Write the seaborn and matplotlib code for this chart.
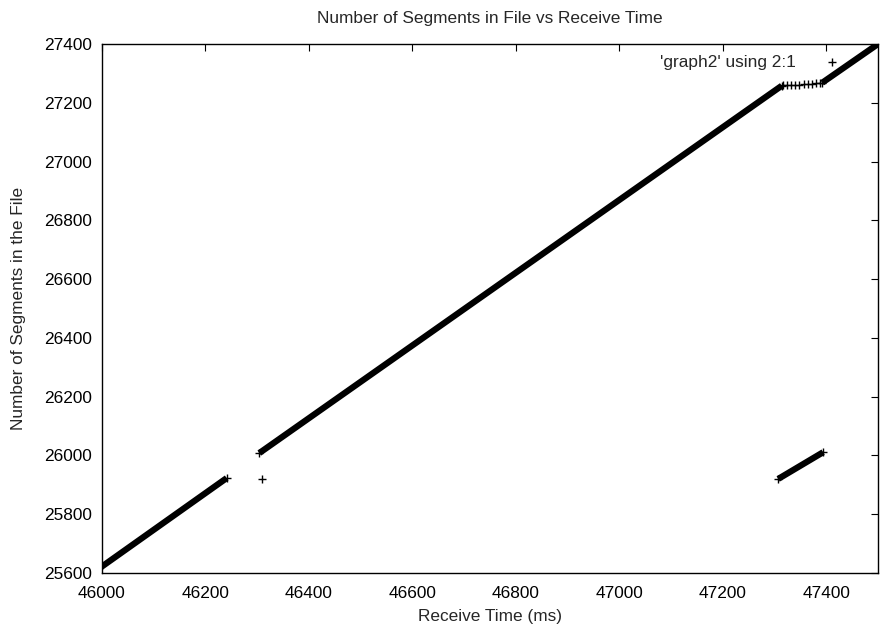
import matplotlib
matplotlib.use("Agg")
import matplotlib.pyplot as plt
import seaborn as sns
import pandas as pd

# ---- data ----
# dense runs of received segments: start/end (receive time ms, segment number)
run_id = ["run1", "run2", "run3", "run4"]
run_t_start = [45995, 46304, 47392, 47307]
run_t_end = [46241, 47314, 47505, 47394]
run_seg_start = [25616, 26008, 27268, 25920]
run_seg_end = [25923, 27258, 27406, 26011]

# individually visible points
single_t = [46309, 47316, 47324, 47332, 47340, 47348, 47356, 47364, 47372, 47380, 47388]
single_seg = [25919, 27259, 27260, 27260, 27261, 27262, 27263, 27264, 27265, 27266, 27267]

title = "Number of Segments in File vs Receive Time"
xlabel = "Receive Time (ms)"
ylabel = "Number of Segments in the File"
legend_label = "'graph2' using 2:1"
xticks = [46000, 46200, 46400, 46600, 46800, 47000, 47200, 47400]
yticks = [25600, 25800, 26000, 26200, 26400, 26600, 26800, 27000, 27200, 27400]

# ---- build tables ----
rows = []
for r, t0, t1, s0, s1 in zip(run_id, run_t_start, run_t_end, run_seg_start, run_seg_end):
    rows.append({"time": t0, "segment": s0, "run": r})
    rows.append({"time": t1, "segment": s1, "run": r})
runs = pd.DataFrame(rows)
singles = pd.DataFrame({"time": single_t, "segment": single_seg})

sns.set_style("white")
plt.rcParams["font.family"] = ["Liberation Sans", "DejaVu Sans"]
FS = 12.4

W, H = 880, 631
fig = plt.figure(figsize=(W / 100, H / 100), dpi=100)
L, R, T, B = 102, 878, 44, 573
ax = fig.add_axes([L / W, 1 - B / H, (R - L) / W, (B - T) / H])

sns.lineplot(data=runs, x="time", y="segment", units="run", estimator=None,
             sort=False, color="black", linewidth=4.5, ax=ax, legend=False,
             solid_capstyle="butt")
sns.scatterplot(data=runs, x="time", y="segment", marker="+", s=40,
                color="black", linewidth=1.0, ax=ax, legend=False)
sns.scatterplot(data=singles, x="time", y="segment", marker="+", s=30,
                color="black", linewidth=1.0, ax=ax, label=legend_label)

ax.set_xlim(46000, 47500)
ax.set_ylim(25600, 27400)
ax.set_xticks(xticks)
ax.set_yticks(yticks)
ax.set_xticklabels([str(v) for v in xticks], fontsize=FS)
ax.set_yticklabels([str(v) for v in yticks], fontsize=FS)
ax.tick_params(direction="in", length=5, width=0.8, top=True, right=True,
               colors="black", labelcolor="black")
ax.tick_params(axis="x", pad=9)
ax.tick_params(axis="y", pad=7)
for sp in ax.spines.values():
    sp.set_visible(True)
    sp.set_color("black")
    sp.set_linewidth(1.0)
ax.set_xlabel("")
ax.set_ylabel("")

fig.text(0.5 * (L + R) / W, 1 - 19 / H, title, ha="center", va="center", fontsize=FS)
fig.text(0.5 * (L + R) / W, 1 - 617 / H, xlabel, ha="center", va="center", fontsize=FS)
fig.text(19 / W, 1 - (0.5 * (T + B)) / H, ylabel, ha="center", va="center",
         rotation=90, fontsize=FS)

leg = ax.legend(loc="center right",
                bbox_to_anchor=((849 - L) / (R - L), 1 - (62 - T) / (B - T)),
                frameon=False, markerfirst=False, fontsize=FS,
                handlelength=2.0, handletextpad=1.1, borderpad=0, borderaxespad=0)

fig.savefig("out.png", dpi=100)
